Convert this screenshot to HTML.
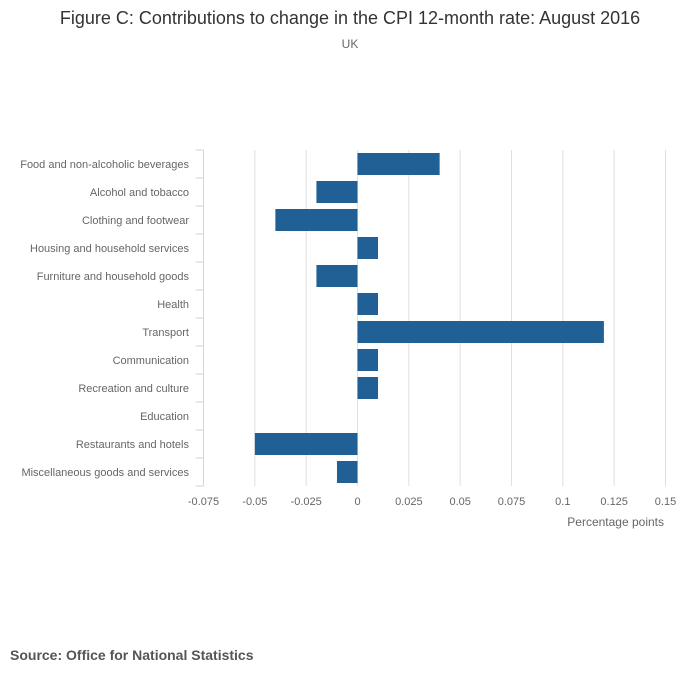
<!DOCTYPE html>
<html><head><meta charset="utf-8"><style>
body{margin:0;background:#fff;font-family:"Liberation Sans",sans-serif;}
svg text{font-family:"Liberation Sans",sans-serif;}
</style></head><body>
<svg id="chart" width="700" height="682" xmlns="http://www.w3.org/2000/svg">
<text x="350" y="24" text-anchor="middle" font-size="18" fill="#333">Figure C: Contributions to change in the CPI 12-month rate: August 2016</text>
<text x="350" y="48" text-anchor="middle" font-size="12" fill="#666">UK</text>
<g id="grid"></g><g id="bars"></g><g id="yaxis"></g><g id="xaxis"></g>
<text x="664" y="526" text-anchor="end" font-size="12" fill="#666">Percentage points</text>
<text x="10" y="660" font-size="14" font-weight="bold" fill="#555">Source: Office for National Statistics</text>
</svg>
<script>
const categories=["Food and non-alcoholic beverages","Alcohol and tobacco","Clothing and footwear","Housing and household services","Furniture and household goods","Health","Transport","Communication","Recreation and culture","Education","Restaurants and hotels","Miscellaneous goods and services"];
const values=[0.04,-0.02,-0.04,0.01,-0.02,0.01,0.12,0.01,0.01,0,-0.05,-0.01];
const ticks=[-0.075,-0.05,-0.025,0,0.025,0.05,0.075,0.1,0.125,0.15];
const tickLabels=["-0.075","-0.05","-0.025","0","0.025","0.05","0.075","0.1","0.125","0.15"];
const NS="http://www.w3.org/2000/svg";
const x0=203.5,x1=665.5,plotTop=150,plotBottom=486;
const xmin=-0.075,xmax=0.15;
function X(v){return x0+(v-xmin)/(xmax-xmin)*(x1-x0);}
const band=(plotBottom-plotTop)/categories.length;
function Y(i){return plotTop+i*band;}
function mk(t,a,p){const e=document.createElementNS(NS,t);for(const k in a)e.setAttribute(k,a[k]);p.appendChild(e);return e;}
const grid=document.getElementById('grid'),bars=document.getElementById('bars'),ya=document.getElementById('yaxis'),xa=document.getElementById('xaxis');
ticks.forEach((t,i)=>{
  if(i>0){const g=mk('line',{x1:X(t),x2:X(t),y1:plotTop,y2:plotBottom,stroke:'#e0e0e0','stroke-width':1},grid);
  
  }
  const l=mk('text',{x:X(t),y:505,'text-anchor':'middle','font-size':11,fill:'#666'},xa);
  l.textContent=tickLabels[i];
  
  
});
const ax=mk('line',{x1:x0,x2:x0,y1:plotTop,y2:plotBottom,stroke:'#ccd6eb','stroke-width':1},ya);


for(let i=0;i<=categories.length;i++){
  const tk=mk('line',{x1:x0-8,x2:x0,y1:Y(i),y2:Y(i),stroke:'#ccd6eb','stroke-width':1},ya);
  
  
}
categories.forEach((c,i)=>{
  const l=mk('text',{x:189,y:Y(i)+band/2+4,'text-anchor':'end','font-size':11,fill:'#666'},ya);
  l.textContent=c;
  
  
  const v=values[i];
  const r=mk('rect',{x:Math.min(X(0),X(v)),y:Y(i)+3,width:Math.abs(X(v)-X(0)),height:band-6,fill:'#206095'},bars);
  
  
});
</script>
</body></html>
